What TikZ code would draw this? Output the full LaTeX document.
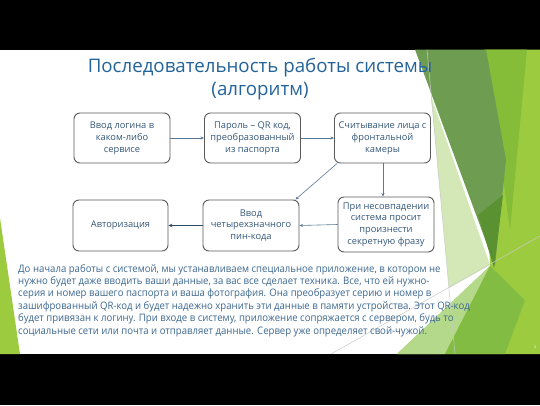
\documentclass[tikz,border=0pt]{standalone}
\usepackage{fontspec}
\setmainfont{Open Sans}
\newfontfamily\bodyfont[FakeStretch=0.93]{Open Sans}
\usetikzlibrary{arrows.meta}
\definecolor{titlec}{HTML}{24649A}
\definecolor{bodyc}{HTML}{3D6890}
\definecolor{boxtext}{HTML}{34587A}
\definecolor{boxgray}{HTML}{5A5A5A}
\definecolor{arrowc}{HTML}{5A7896}
\definecolor{arrowdark}{HTML}{2E4A66}
\definecolor{gA}{HTML}{9DCB3F}
\definecolor{gB}{HTML}{85BC38}
\definecolor{gC}{HTML}{6E9D52}
\definecolor{gD}{HTML}{5A9232}
\definecolor{gPale}{HTML}{D3E8B6}
\definecolor{gLight}{HTML}{B5D98A}
\definecolor{gMid}{HTML}{82BC42}
\definecolor{lineg}{HTML}{C8CCC8}
\begin{document}
\begin{tikzpicture}[x=1pt,y=-1pt,
  box/.style={draw=boxgray, line width=0.9pt, rounded corners=6pt, fill=white,
    minimum width=96pt, minimum height=50pt, align=center, text=boxtext,
    font=\fontsize{9.3}{11.8}\selectfont, inner sep=1pt},
  conn/.style={draw=arrowc, line width=0.6pt, -{Stealth[length=3.5pt,width=3pt]}},
  conndark/.style={draw=arrowdark, line width=1pt, -{Stealth[length=4pt,width=3.5pt]}}]
\useasboundingbox (0,0) rectangle (540,405);
% background
\fill[black] (0,0) rectangle (540,405);
\fill[white] (0,49.5) rectangle (540,354);
% theme decorations (right)
\fill[gA] (484,49.5) -- (540,49.5) -- (540,354) -- (397,354) -- (490,266) -- cycle;
\fill[gB] (486,49.5) -- (527,49.5) -- (510,230) -- cycle;
\fill[gC] (415,49.5) -- (486,49.5) -- (506,160) -- (495,266) -- cycle;
\fill[gD] (478,215) -- (503,195) -- (494,268) -- cycle;
\fill[gPale] (431,96) -- (490,265) -- (449,288) -- cycle;
\fill[gLight] (397,354) -- (490,266) -- (445,354) -- cycle;
\fill[gMid] (445,354) -- (490,266) -- (525,300) -- (505,354) -- cycle;
\draw[lineg, line width=0.5pt] (427,49.5) -- (455,354);
\draw[lineg, line width=0.5pt] (331,354) -- (540,236);
% left decoration
\fill[gA] (0,218) -- (20,354) -- (0,354) -- cycle;
% title
\node[text=titlec, font=\fontsize{18.7}{23}\selectfont, align=center] (title) at (260,79)
  {Последовательность работы системы\\(алгоритм)};
% boxes
\node[box] (b1) at (122,138) {Ввод логина в\\каком-либо\\сервисе};
\node[box] (b2) at (252.5,138) {Пароль – QR код,\\преобразованный\\из паспорта};
\node[box] (b3) at (382.5,138) {Считывание лица с\\фронтальной\\камеры};
\node[box, minimum width=95pt, minimum height=51pt] (b4) at (120.5,225.5) {Авторизация};
\node[box, minimum height=51pt] (b5) at (251,225.5) {Ввод\\четырехзначного\\пин-кода};
\node[box, minimum height=55pt] (b6) at (386,224.5) {При несовпадении\\система просит\\произнести\\секретную фразу};
% connectors
\draw[conn] (b1.east) -- (b2.west);
\draw[conn] (b2.east) -- (b3.west);
\draw[conn] ([xshift=3pt]b3.south west) -- ([xshift=-4pt]b5.north east);
\draw[conn] ([xshift=0.5pt]b3.south) -- ([xshift=0.5pt]b3.south |- b6.north);
\draw[conn] (b6.west) -- (b5.west -| b5.east);
\draw[conndark] (b5.west) -- (b4.east);
% body text
\node[anchor=north west, text=bodyc, align=left, inner sep=0pt,
  font=\bodyfont\fontsize{10.3}{12.4}\selectfont] (body) at (18,264)
  {До начала работы с системой, мы устанавливаем специальное приложение, в котором не\\
   нужно будет даже вводить ваши данные, за вас все сделает техника. Все, что ей нужно-\\
   серия и номер вашего паспорта и ваша фотография. Она преобразует серию и номер в\\
   зашифрованный QR-код и будет надежно хранить эти данные в памяти устройства. Этот QR-код\\
   будет привязан к логину. При входе в систему, приложение сопряжается с сервером, будь то\\
   социальные сети или почта и отправляет данные. Сервер уже определяет свой-чужой.};
% page number
\node[text=white!85!gray, font=\fontsize{4}{4}\selectfont, inner sep=0pt] (pnum) at (535,347) {4};
\end{tikzpicture}
\end{document}
